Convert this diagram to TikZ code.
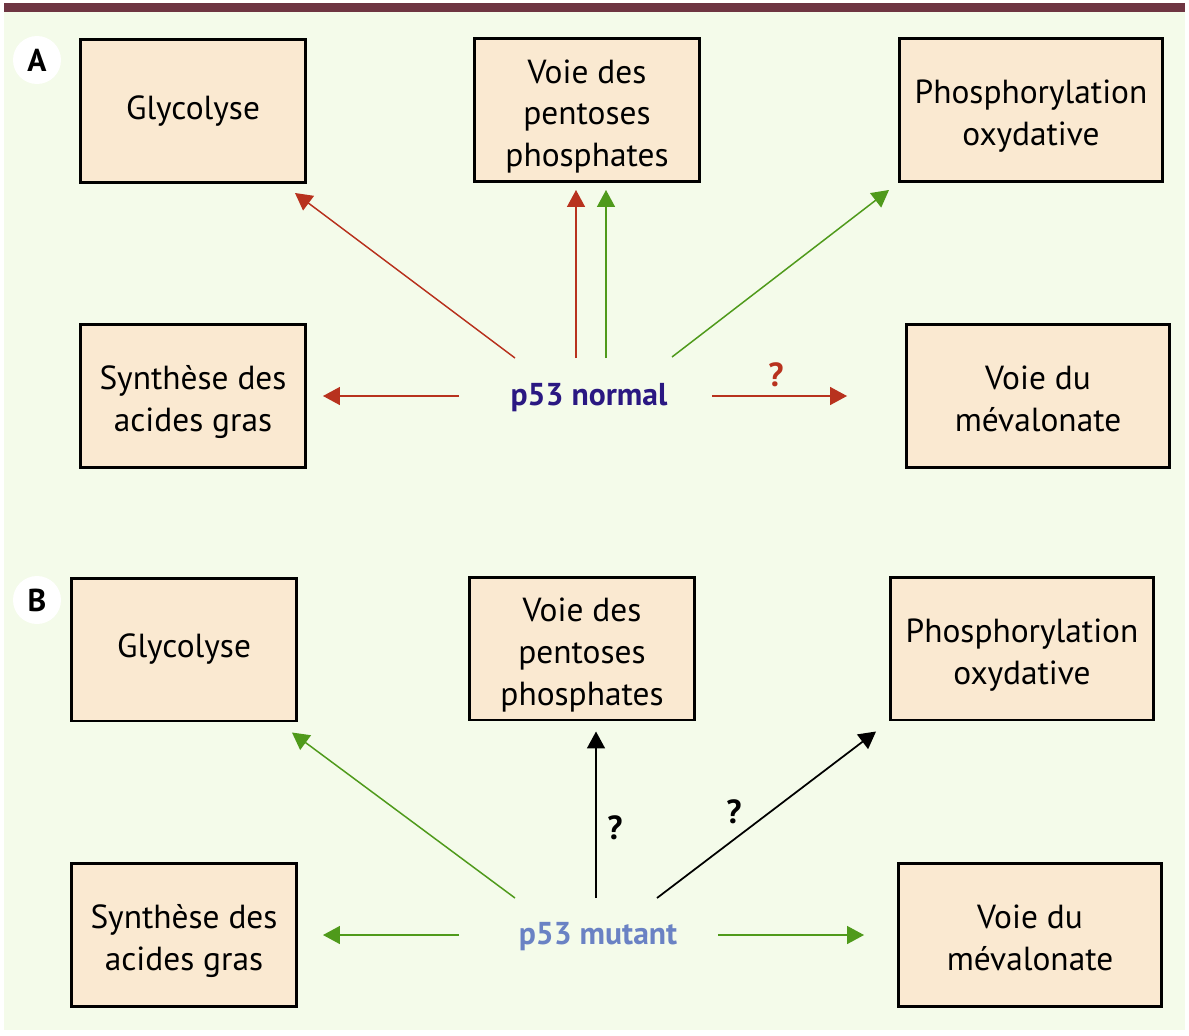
\documentclass[tikz,border=0pt]{standalone}
\usepackage{fontspec}
\setmainfont{PT Sans}
\usetikzlibrary{arrows.meta,calc}

\definecolor{fond}{HTML}{F4FBEA}
\definecolor{bandeau}{HTML}{6E3542}
\definecolor{chamois}{HTML}{FAE9D1}
\definecolor{rouge}{HTML}{B8321E}
\definecolor{vert}{HTML}{4F9A1B}
\definecolor{bleufonce}{HTML}{2A1882}
\definecolor{bleuclair}{HTML}{6A82C4}

% texte de plusieurs lignes, un peu abaisse dans la boite
\newcommand{\lignes}[1]{\raisebox{-0.13cm}[\height][\depth]{\begin{tabular}{@{}c@{}}#1\end{tabular}}}

\tikzset{
  boite/.style={draw=black, line width=1.7pt, fill=chamois, align=center,
    minimum width=4.5cm, minimum height=2.86cm, inner sep=0pt,
    font=\fontsize{19}{23.8}\selectfont},
  large/.style={boite, minimum width=5.26cm},
  fleche/.style={-{Triangle[length=0.34cm,width=0.36cm]}, line width=0.85pt},
  fr/.style={fleche, rouge},
  fv/.style={fleche, vert},
  fn/.style={fleche, black, line width=1pt},
  pastille/.style={circle, fill=white, minimum size=0.96cm, inner sep=0pt,
    font=\fontsize{18}{18}\selectfont\bfseries},
  question/.style={font=\fontsize{19}{19}\selectfont\bfseries},
  proteine/.style={font=\fontsize{18}{18}\selectfont\bfseries}
}

\begin{document}
\begin{tikzpicture}[x=0.02cm,y=-0.02cm]
        \useasboundingbox (0,0) rectangle (1189,1035) ;
        \fill[white] (0,0) rectangle (1189,1035) ;
        \fill[fond] (4,12) rectangle (1185,1030) ;
        \fill[bandeau] (4,3) rectangle (1185,12) ;

        % A : p53 normal
        \node[pastille] (lettreA) at (37,60) {A} ;
        \node[boite] (glyA) at (193,111) {Glycolyse} ;
        \node[boite] (pentA) at (587,110) {\lignes{Voie des\\pentoses\\phosphates}} ;
        \node[large] (phosA) at (1031,110) {\lignes{Phosphorylation\\oxydative}} ;
        \node[boite] (synA) at (193,396) {\lignes{Synthèse des\\acides gras}} ;
        \node[large] (mevA) at (1038,396) {\lignes{Voie du\\mévalonate}} ;
        \node[proteine,bleufonce] (pA) at (589,398) {p53 normal} ;
        \coordinate (tA1) at (515,358) ;
        \coordinate (tA2) at (576,358) ;
        \coordinate (tA3) at (606,358) ;
        \coordinate (tA4) at (672,357) ;
        \coordinate (tA5) at (459,396) ;
        \coordinate (tA6) at (712,396) ;
        \draw[fr] (tA1) -- ($(glyA.south east)+(-12,9)$) ;
        \draw[fr] (tA2) -- ($(tA2 |- pentA.south)+(0,7)$) ;
        \draw[fv] (tA3) -- ($(tA3 |- pentA.south)+(0,7)$) ;
        \draw[fv] (tA4) -- ($(phosA.south west)+(-9,7)$) ;
        \draw[fr] (tA5) -- ($(synA.east)+(16,0)$) ;
        \draw[fr] (tA6) -- ($(mevA.west)+(-58,0)$) ;
        \node[question,rouge] (qA) at (776,375) {?} ;

        % B : p53 mutant
        \node[pastille] (lettreB) at (37,600) {B} ;
        \node[boite] (glyB) at (184,649.5) {Glycolyse} ;
        \node[boite] (pentB) at (582,648.5) {\lignes{Voie des\\pentoses\\phosphates}} ;
        \node[large] (phosB) at (1022,648.5) {\lignes{Phosphorylation\\oxydative}} ;
        \node[boite] (synB) at (184,935) {\lignes{Synthèse des\\acides gras}} ;
        \node[large] (mevB) at (1030,935) {\lignes{Voie du\\mévalonate}} ;
        \node[proteine,bleuclair] (pB) at (598,937) {p53 mutant} ;
        \coordinate (tB1) at (515,898) ;
        \coordinate (tB2) at (596,898) ;
        \coordinate (tB3) at (657,898) ;
        \coordinate (tB4) at (459,935) ;
        \coordinate (tB5) at (718,935) ;
        \draw[fv] (tB1) -- ($(glyB.south east)+(-6,10)$) ;
        \draw[fn] (tB2) -- ($(tB2 |- pentB.south)+(0,10)$) ;
        \draw[fn] (tB3) -- ($(phosB.south west)+(-13,10)$) ;
        \draw[fv] (tB4) -- ($(synB.east)+(25,0)$) ;
        \draw[fv] (tB5) -- ($(mevB.west)+(-33,0)$) ;
        \node[question] (qB1) at (615,828) {?} ;
        \node[question] (qB2) at (734,812) {?} ;
\end{tikzpicture}
\end{document}
